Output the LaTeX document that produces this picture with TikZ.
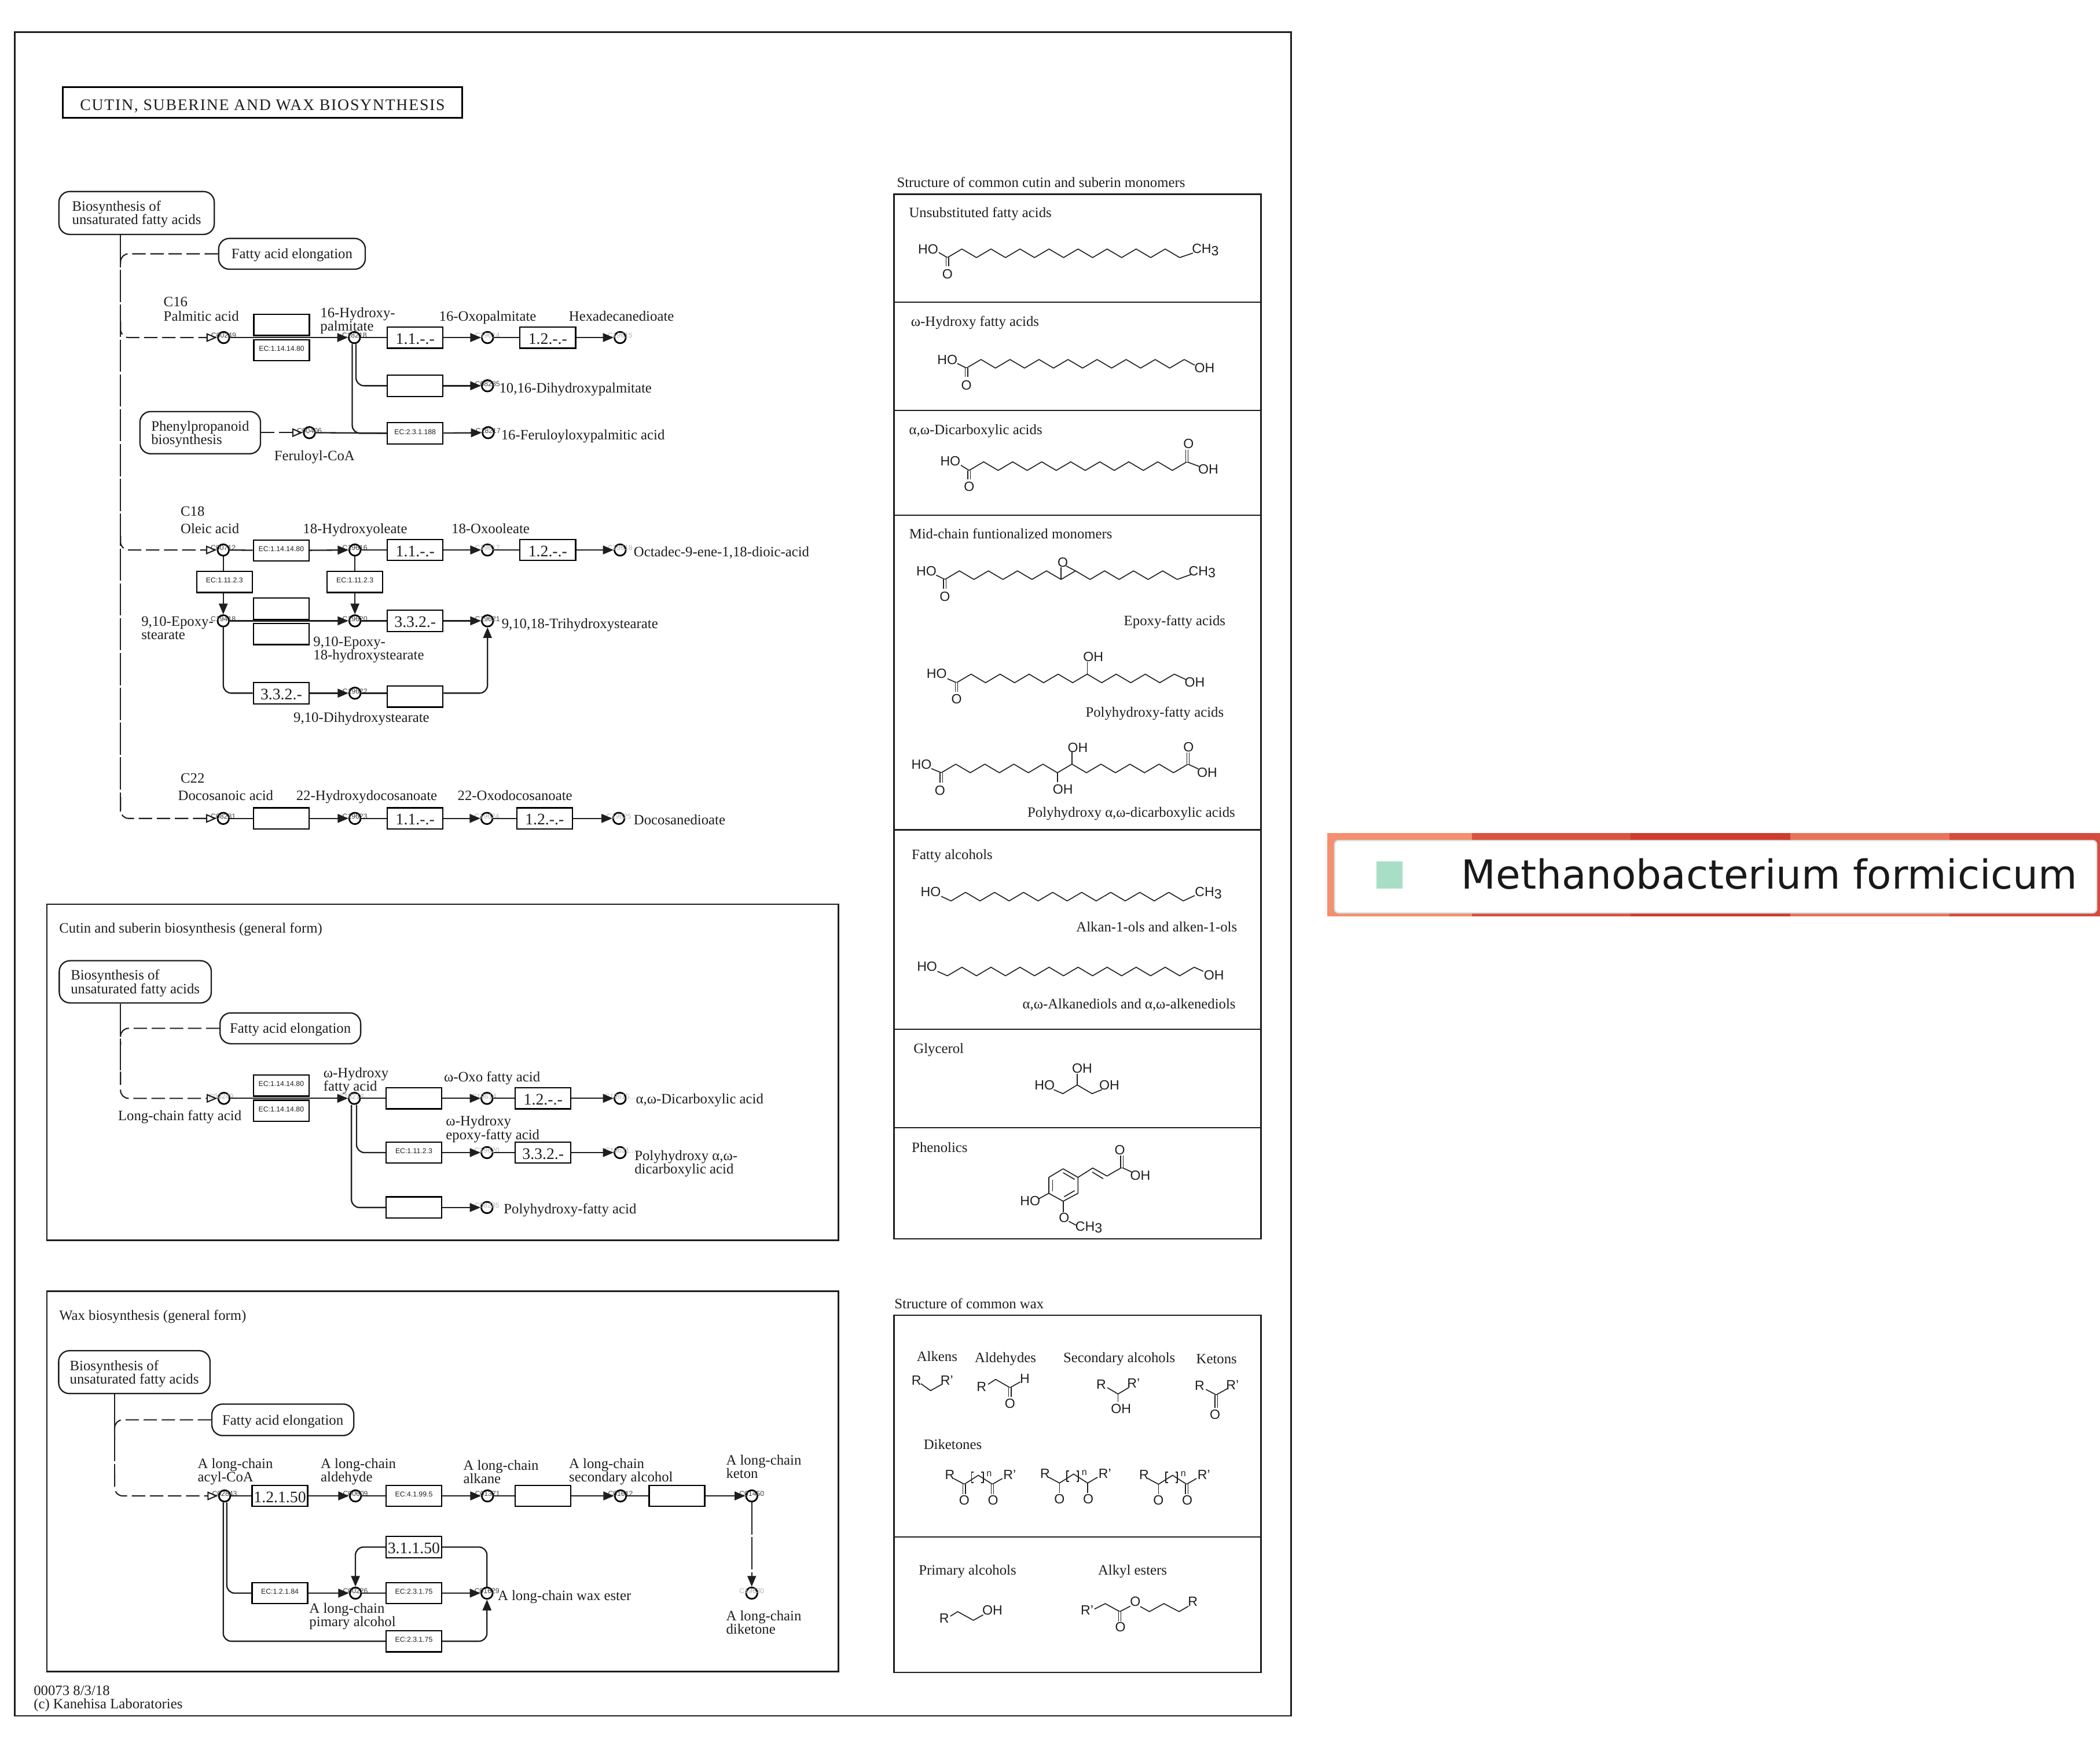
\documentclass[tikz,border=0pt]{standalone}
\usepackage{fontspec}
\setmainfont{Liberation Serif}
\setsansfont{Liberation Sans}
\newfontfamily\legendfont{DejaVu Sans}
\usetikzlibrary{arrows.meta,positioning}
\definecolor{keggInk}{RGB}{30,30,30}
\definecolor{legendMint}{RGB}{169,222,198}
\newcommand{\labfont}{\fontsize{10.7}{10}\selectfont}
\newcommand{\mapstrut}{\rule{0pt}{9.6pt}}
% one carbon chain: start x, start y, number of bonds
\newcommand{\fattychain}[3]{\draw[bond] plot[variable=\k,samples at={0,...,#3}] ({#1+10.84*\k},{#2-6.4*mod(\k,2)});}
% wax diketone: name, shift, left and right carbonyl bond
\newcommand{\diketone}[4]{
  \begin{scope}[shift={(#2)}]
    \node[atom] (#1r) at (709.2,1101) {R};
    \node[atom] (#1s) at (753.9,1101) {R'};
    \node[atom] (#1a) at (720,1120.1) {O};
    \node[atom] (#1b) at (741.5,1120.1) {O};
    \node[atom,font=\sffamily\fontsize{7}{7}\selectfont] (#1n) at (738.6,1100.5) {n};
    \draw[bond] (712,1103.8) -- (720,1108.1) -- (730.5,1101.4) -- (741,1108.1) -- (748.4,1103.8);
    \draw[bond] (727,1099) -- (725.4,1099) -- (725.4,1106.8) -- (727,1106.8);
    \draw[bond] (732.6,1099) -- (734.2,1099) -- (734.2,1106.8) -- (732.6,1106.8);
    \draw[#3] (720,1108.1) -- (720,1115.5);
    \draw[#4] (741,1108.1) -- (741,1115.5);
  \end{scope}}

\begin{document}
\begin{tikzpicture}[x=1pt,y=-1pt,
    lab/.style={anchor=west,inner sep=0pt,yshift=-1.3pt,font=\labfont,text=keggInk,text height=6.9pt,text depth=2.2pt},
    lab2/.style={anchor=west,inner sep=0pt,yshift=-1.3pt,font=\labfont,text=keggInk,align=left},
    frame/.style={draw=keggInk,line width=1pt},
    map/.style={draw=keggInk,fill=white,line width=1pt,rounded corners=8pt,inner sep=0pt,font=\labfont,align=left,text=keggInk},
    enz/.style={draw=black,fill=white,line width=1pt,minimum width=41.5pt,minimum height=15.8pt,inner sep=0pt,
      font=\fontsize{12}{12}\selectfont,text=keggInk,text height=10.5pt,text depth=1pt},
    ec/.style={enz,font=\sffamily\fontsize{5.3}{6}\selectfont,text height=3.8pt,text depth=2.4pt},
    cpd/.style={circle,draw=black,fill=white,line width=1.2pt,minimum size=8.5pt,inner sep=0pt},
    cid/.style={inner sep=0pt,yshift=1.5pt,font=\sffamily\fontsize{5.3}{6}\selectfont,text=black!75},
    cidl/.style={cid,text=black!30},
    link/.style={draw=keggInk,line width=1pt},
    curved/.style={link,rounded corners=6pt},
    rx/.style={link,-{Triangle[length=8pt,width=6.5pt]}},
    rxo/.style={dashlink,-{Triangle[open,length=8pt,width=6.5pt]}},
    dashlink/.style={draw=keggInk,line width=.9pt,dash pattern=on 10pt off 3.5pt,rounded corners=6pt},
    trunk/.style={draw=keggInk,line width=.8pt,dash pattern=on 24pt off 2pt},
    atom/.style={inner sep=0pt,font=\sffamily\fontsize{10}{10}\selectfont,text=keggInk},
    bond/.style={draw=keggInk,line width=.7pt,line join=round},
    dbl/.style={draw=keggInk,line width=.6pt,double,double distance=1.3pt}
  ]
  \useasboundingbox (0,0) rectangle (1568,1306.5);

  % frames
  \draw[frame] (11,24) rectangle (964,1281);
  \draw[frame] (35,675) rectangle (626,926);
  \draw[frame] (35,964) rectangle (626,1248);
  \draw[frame] (667.5,145) rectangle (941.5,925);
  \draw[frame] (667.5,225.5) -- (941.5,225.5);
  \draw[frame] (667.5,306.5) -- (941.5,306.5);
  \draw[frame] (667.5,384.5) -- (941.5,384.5);
  \draw[frame] (667.5,619.5) -- (941.5,619.5);
  \draw[frame] (667.5,768.5) -- (941.5,768.5);
  \draw[frame] (667.5,842) -- (941.5,842);
  \draw[frame] (667.5,982) rectangle (941.5,1248.5);
  \draw[frame] (667.5,1147.5) -- (941.5,1147.5);

  \node[draw=black,line width=1.2pt,minimum width=298pt,minimum height=23pt,inner sep=0pt,text=keggInk,
    font=\fontsize{12}{12}\selectfont\addfontfeature{LetterSpace=6.3},text depth=0pt,text height=12pt] (title) at (196,76.5) {CUTIN, SUBERINE AND WAX BIOSYNTHESIS\hspace{11pt}};
  \node[lab] (foot1) at (25,1262) {00073 8/3/18};
  \node[lab] (foot2) at (25,1272) {(c) Kanehisa Laboratories};

  % upper map: start nodes
  \node[map,minimum width=116pt,minimum height=32pt] (bio) at (102,159) {\mapstrut Biosynthesis of\\unsaturated fatty acids};
  \node[map,minimum width=109.5pt,minimum height=23pt] (elo) at (218,189.5) {\mapstrut Fatty acid elongation};
  \node[map,minimum width=90pt,minimum height=31.5pt] (phe) at (149.5,323) {\mapstrut Phenylpropanoid\\biosynthesis};

  % C16
  \node[cpd,label={[cid]center:C00249}] (pal) at (167,252) {};
  \node[cpd,label={[cid]center:C18218}] (hyp) at (264.6,252) {};
  \node[cpd,label={[cidl]center:C19614}] (oxp) at (364,252) {};
  \node[cpd,label={[cidl]center:C19615}] (hex) at (463,252) {};
  \node[cpd,label={[cid]center:C08285}] (dhp) at (364,288) {};
  \node[cpd,label={[cid]center:C00406}] (fer) at (231,323) {};
  \node[cpd,label={[cid]center:C18217}] (frp) at (364.5,323) {};
  \node[enz] (e1a) at (210.3,242.6) {};
  \node[ec] (e1b) at (210.3,261.5) {EC:1.14.14.80};
  \node[enz] (e2) at (310,252) {1.1.-.-};
  \node[enz] (e3) at (409,252) {1.2.-.-};
  \node[enz] (e4) at (310,288) {};
  \node[ec] (e5) at (310,323.5) {EC:2.3.1.188};
  \node[lab] (lc16) at (122,225) {C16};
  \node[lab] (lpal) at (122,236) {Palmitic acid};
  \node[lab2] (lhyp) at (239,238) {16-Hydroxy-\\palmitate};
  \node[lab] (loxp) at (327.7,236) {16-Oxopalmitate};
  \node[lab] (lhex) at (424.6,236) {Hexadecanedioate};
  \node[lab] (ldhp) at (372.6,289.6) {10,16-Dihydroxypalmitate};
  \node[lab] (lfrp) at (374,324.5) {16-Feruloyloxypalmitic acid};
  \node[lab] (lfer) at (204.6,340) {Feruloyl-CoA};

  % C18
  \node[cpd,label={[cid]center:C00712}] (ole) at (166.7,410.6) {};
  \node[cpd,label={[cid]center:C19616}] (hyo) at (265,410.6) {};
  \node[cpd,label={[cidl]center:C19617}] (oxo) at (364,410.6) {};
  \node[cpd,label={[cidl]center:C19618}] (oct) at (463,410.6) {};
  \node[cpd,label={[cid]center:C19418}] (eps) at (166.7,463.5) {};
  \node[cpd,label={[cid]center:C19620}] (ehs) at (265,463.5) {};
  \node[cpd,label={[cid]center:C19621}] (tri) at (364,463.5) {};
  \node[cpd,label={[cid]center:C19622}] (dih) at (265,517.5) {};
  \node[ec] (e6) at (210,411) {EC:1.14.14.80};
  \node[enz] (e7) at (310,410.6) {1.1.-.-};
  \node[enz] (e8) at (409,410.6) {1.2.-.-};
  \node[ec] (e9) at (167.6,434.5) {EC:1.11.2.3};
  \node[ec] (e10) at (265,434.5) {EC:1.11.2.3};
  \node[enz] (e11a) at (210,454.4) {};
  \node[enz] (e11b) at (210,473.4) {};
  \node[enz] (e12) at (310,463.5) {3.3.2.-};
  \node[enz] (e13) at (210,517.5) {3.3.2.-};
  \node[enz] (e14) at (310,520) {};
  \node[lab] (lc18) at (134.7,381.6) {C18};
  \node[lab] (lole) at (134.7,394.5) {Oleic acid};
  \node[lab] (lhyo) at (226,394.5) {18-Hydroxyoleate};
  \node[lab] (loxo) at (337,394.5) {18-Oxooleate};
  \node[lab] (loct) at (473,412) {Octadec-9-ene-1,18-dioic-acid};
  \node[lab2] (leps) at (105.4,467.4) {9,10-Epoxy-\\stearate};
  \node[lab2] (lehs) at (233.8,483.9) {9,10-Epoxy-\\18-hydroxystearate};
  \node[lab] (ltri) at (374.4,465.5) {9,10,18-Trihydroxystearate};
  \node[lab] (ldih) at (219,535.4) {9,10-Dihydroxystearate};

  % C22
  \node[cpd,label={[cid]center:C08281}] (doc) at (166.7,611) {};
  \node[cpd,label={[cid]center:C19623}] (hyd) at (265,611) {};
  \node[cpd,label={[cidl]center:C19624}] (oxd) at (363.5,611) {};
  \node[cpd,label={[cidl]center:C19625}] (dio) at (462,611) {};
  \node[enz] (e15) at (210,611) {};
  \node[enz] (e16) at (310,611) {1.1.-.-};
  \node[enz] (e17) at (406.6,611) {1.2.-.-};
  \node[lab] (lc22) at (134.7,581) {C22};
  \node[lab] (ldoc) at (132.8,594) {Docosanoic acid};
  \node[lab] (lhyd) at (221,594) {22-Hydroxydocosanoate};
  \node[lab] (loxd) at (341.5,594) {22-Oxodocosanoate};
  \node[lab] (ldio) at (473,612) {Docosanedioate};

  \coordinate (t1) at (90,200);
  \coordinate (t2) at (90,240);
  \coordinate (t3) at (90,400);
  \coordinate (t4) at (90,595);
  \draw[trunk] (t1 |- bio.south) -- (t1) -- (t4) -- (90,606);
  \draw[dashlink] (elo.west) -| (t1);
  \draw[rxo] (t2) |- (pal);
  \draw[rxo] (t3) |- (ole);
  \draw[rxo] (t4) |- (doc);
  \draw[rxo,rounded corners=0pt] (phe) -- (fer);

  \draw[rx] (pal) -- (hyp);
  \draw[link] (hyp) -- (e2);
  \draw[rx] (e2) -- (oxp);
  \draw[link] (oxp) -- (e3);
  \draw[rx] (e3) -- (hex);
  \draw[curved] ([xshift=1.2pt]hyp.south) |- (e4.west);
  \draw[rx] (e4) -- (dhp);
  \draw[curved] ([xshift=-1.6pt]hyp.south) |- (e5.west);
  \draw[link] (fer) -- (e5);
  \draw[rx] (e5) -- (frp);

  \draw[link] (ole) -- (e6);
  \draw[rx] (e6) -- (hyo);
  \draw[link] (hyo) -- (e7);
  \draw[rx] (e7) -- (oxo);
  \draw[link] (oxo) -- (e8);
  \draw[rx] (e8) -- (oct);
  \draw[link] (ole) -- (ole |- e9.north);
  \draw[rx] (eps |- e9.south) -- (eps);
  \draw[link] (hyo) -- (e10);
  \draw[rx] (e10) -- (ehs);
  \draw[rx] (eps) -- (ehs);
  \draw[link] (ehs) -- (e12);
  \draw[rx] (e12) -- (tri);
  \draw[curved] (eps.south) |- (e13.west);
  \draw[rx] (e13) -- (dih);
  \draw[link] (dih) -- (dih -| e14.west);
  \draw[rx,rounded corners=6pt] (dih -| e14.east) -| (tri.south);

  \draw[link] (doc) -- (e15);
  \draw[rx] (e15) -- (hyd);
  \draw[link] (hyd) -- (e16);
  \draw[rx] (e16) -- (oxd);
  \draw[link] (oxd) -- (e17);
  \draw[rx] (e17) -- (dio);

  % cutin and suberin, general form
  \node[lab] (lcut) at (44,693) {Cutin and suberin biosynthesis (general form)};
  \node[map,minimum width=113.5pt,minimum height=31.5pt] (bio2) at (101,733) {\mapstrut Biosynthesis of\\unsaturated fatty acids};
  \node[map,minimum width=105pt,minimum height=23pt] (elo2) at (216.8,767.7) {\mapstrut Fatty acid elongation};
  \node[cpd,label={[cidl]center:C00249...}] (lcf) at (167.2,820) {};
  \node[cpd,label={[cidl]center:C18218...}] (ohf) at (264.6,820) {};
  \node[cpd,label={[cidl]center:C19614...}] (oxf) at (363.6,820) {};
  \node[cpd,label={[cidl]center:C19615...}] (dca) at (463,820) {};
  \node[cpd,label={[cidl]center:C19620}] (oef) at (363.6,860.5) {};
  \node[cpd,label={[cidl]center:C19621...}] (pdc) at (463,860.5) {};
  \node[cpd,label={[cidl]center:C08285}] (pfa) at (363.6,901.5) {};
  \node[ec] (g1a) at (210,810.5) {EC:1.14.14.80};
  \node[ec] (g1b) at (210,829.3) {EC:1.14.14.80};
  \node[enz] (g2) at (309,820) {};
  \node[enz] (g3) at (405.5,820) {1.2.-.-};
  \node[ec] (g4) at (309,860.5) {EC:1.11.2.3};
  \node[enz] (g5) at (405.5,860.5) {3.3.2.-};
  \node[enz] (g6) at (309,901.5) {};
  \node[lab] (llcf) at (88,832.7) {Long-chain fatty acid};
  \node[lab2] (lohf) at (241.3,805.8) {ω-Hydroxy\\fatty acid};
  \node[lab] (loxf) at (331.3,804) {ω-Oxo fatty acid};
  \node[lab] (ldca) at (474.6,820.5) {α,ω-Dicarboxylic acid};
  \node[lab2] (loef) at (332.8,841.7) {ω-Hydroxy\\epoxy-fatty acid};
  \node[lab2] (lpdc) at (473.6,867.3) {Polyhydroxy α,ω-\\dicarboxylic acid};
  \node[lab] (lpfa) at (376,902.5) {Polyhydroxy-fatty acid};

  \coordinate (u1) at (90,780);
  \coordinate (u2) at (90,800);
  \draw[trunk] (u1 |- bio2.south) -- (u1) -- (u2);
  \draw[dashlink] (elo2.west) -| (u1);
  \draw[rxo] (u2) |- (lcf);
  \draw[rx] (lcf) -- (ohf);
  \draw[link] (ohf) -- (g2);
  \draw[rx] (g2) -- (oxf);
  \draw[link] (oxf) -- (g3);
  \draw[rx] (g3) -- (dca);
  \draw[curved] ([xshift=1.6pt]ohf.south) |- (g4.west);
  \draw[rx] (g4) -- (oef);
  \draw[link] (oef) -- (g5);
  \draw[rx] (g5) -- (pdc);
  \draw[curved] ([xshift=-2.2pt]ohf.south) |- (g6.west);
  \draw[rx] (g6) -- (pfa);

  % wax, general form
  \node[lab] (lwax) at (44,982) {Wax biosynthesis (general form)};
  \node[map,minimum width=113pt,minimum height=32pt] (bio3) at (100.3,1024.4) {\mapstrut Biosynthesis of\\unsaturated fatty acids};
  \node[map,minimum width=106pt,minimum height=23.5pt] (elo3) at (211.2,1060) {\mapstrut Fatty acid elongation};
  \node[cpd,label={[cid]center:C02843}] (acy) at (167.7,1116.8) {};
  \node[cpd,label={[cid]center:C00609}] (ald) at (265.4,1116.8) {};
  \node[cpd,label={[cid]center:C01371}] (alk) at (364,1116.8) {};
  \node[cpd,label={[cid]center:C01612}] (sec) at (463.3,1116.8) {};
  \node[cpd,label={[cid]center:C01450}] (ket) at (561.3,1116.8) {};
  \node[cpd,label={[cid]center:C00226}] (alc) at (265.4,1189.4) {};
  \node[cpd,label={[cid]center:C01629}] (est) at (363.6,1189.4) {};
  \node[cpd,label={[cidl]center:C19630}] (dik) at (561.3,1189.4) {};
  \node[enz] (w1) at (209,1116.8) {1.2.1.50};
  \node[ec] (w2) at (309,1116.8) {EC:4.1.99.5};
  \node[enz] (w3) at (405.5,1116.8) {};
  \node[enz] (w4) at (505.5,1116.8) {};
  \node[enz] (w5) at (309,1155) {3.1.1.50};
  \node[ec] (w6) at (209,1189.4) {EC:1.2.1.84};
  \node[ec] (w7) at (309,1189.4) {EC:2.3.1.75};
  \node[ec] (w8) at (309,1225.3) {EC:2.3.1.75};
  \node[lab2] (lacy) at (147.4,1097.4) {A long-chain\\acyl-CoA};
  \node[lab2] (lald) at (239.3,1097.4) {A long-chain\\aldehyde};
  \node[lab2] (lalk) at (345.8,1097.4) {A long-chain\\alkane};
  \node[lab2] (lsec) at (424.7,1097.4) {A long-chain\\secondary alcohol};
  \node[lab2] (lket) at (542,1093.7) {A long-chain\\keton};
  \node[lab2] (lalc) at (230.8,1205.5) {A long-chain\\pimary alcohol};
  \node[lab] (lest) at (371.5,1191) {A long-chain wax ester};
  \node[lab2] (ldik) at (542,1209.9) {A long-chain\\diketone};

  \coordinate (v1) at (85.6,1075);
  \coordinate (v2) at (85.6,1100);
  \draw[trunk] (v1 |- bio3.south) -- (v1) -- (v2);
  \draw[dashlink] (elo3.west) -| (v1);
  \draw[rxo] (v2) |- (acy);
  \draw[link] (acy) -- (w1);
  \draw[rx] (w1) -- (ald);
  \draw[link] (ald) -- (w2);
  \draw[rx] (w2) -- (alk);
  \draw[link] (alk) -- (w3);
  \draw[rx] (w3) -- (sec);
  \draw[link] (sec) -- (w4);
  \draw[rx] (w4) -- (ket);
  \draw[trunk,-{Triangle[length=8pt,width=6.5pt]}] (ket) -- (dik);
  \draw[curved] ([xshift=1.6pt]acy.south) |- (w6.west);
  \draw[rx] (w6) -- (alc);
  \draw[link] (alc) -- (w7);
  \draw[rx] (w7) -- (est);
  \draw[curved] ([xshift=-1pt]acy.south) |- (w8.west);
  \draw[rx,rounded corners=6pt] (w8.east) -| (est.south);
  \draw[curved] (est.north) |- (w5.east);
  \draw[rx,rounded corners=6pt] (w5.west) -| (alc.north);

  % cutin and suberin monomers
  \node[lab] (hm1) at (669.5,136) {Structure of common cutin and suberin monomers};
  \node[lab] (hm2) at (678.6,158.5) {Unsubstituted fatty acids};
  \node[atom] (a1) at (693,186) {HO};
  \node[atom] (a2) at (707.4,204.8) {O};
  \node[atom] (a3) at (900,186.5) {CH\raisebox{-1.5pt}{3}};
  \draw[bond] (700.9,188.5) -- (707.4,192.3);
  \fattychain{707.4}{192.3}{16}
  \draw[bond] (880.8,192.3) -- (890.8,188.9);
  \draw[dbl] (707.4,192.3) -- (707.4,199);

  \node[lab] (hm3) at (680,239.8) {ω-Hydroxy fatty acids};
  \node[atom] (a4) at (707.4,268.5) {HO};
  \node[atom] (a5) at (721.6,287.6) {O};
  \node[atom] (a6) at (899.4,274.8) {OH};
  \draw[bond] (714.8,271.4) -- (721.6,274.8);
  \fattychain{721.6}{274.8}{15}
  \draw[bond] (884.2,268.4) -- (892,272.6);
  \draw[dbl] (721.6,274.8) -- (721.6,281.5);

  \node[lab] (hm4) at (678.6,320.8) {α,ω-Dicarboxylic acids};
  \node[atom] (a7) at (709.6,344.4) {HO};
  \node[atom] (a8) at (723.6,363.2) {O};
  \node[atom] (a9) at (887.4,331.2) {O};
  \node[atom] (a10) at (902.2,350.5) {OH};
  \draw[bond] (717.5,347.4) -- (723.6,351.2);
  \fattychain{723.6}{351.2}{15}
  \draw[bond] (886.2,344.8) -- (895.7,348.3);
  \draw[dbl] (723.6,351.2) -- (723.6,358);
  \draw[dbl] (886.2,344.8) -- (886.2,336);

  \node[lab] (hm5) at (678.7,398.3) {Mid-chain funtionalized monomers};
  \node[atom] (a11) at (691.7,426.3) {HO};
  \node[atom] (a12) at (705.5,445.3) {O};
  \node[atom] (a13) at (793.6,420) {O};
  \node[atom] (a14) at (897.6,427) {CH\raisebox{-1.5pt}{3}};
  \draw[bond] (699,429.4) -- (705.5,432.6);
  \fattychain{705.5}{432.6}{16}
  \draw[bond] (878.9,432.6) -- (889.3,428.9);
  \draw[dbl] (705.5,432.6) -- (705.5,439.5);
  \draw[bond] (792.2,432.6) -- (792.2,423.7);
  \draw[bond] (796,422.5) -- (803,426.2);
  \node[lab] (lm1) at (839,463.5) {Epoxy-fatty acids};

  \node[atom] (a15) at (699.4,502.9) {HO};
  \node[atom] (a16) at (714.2,521.8) {O};
  \node[atom] (a17) at (816.3,490.3) {OH};
  \node[atom] (a18) at (892,509.3) {OH};
  \draw[bond] (707.4,506.7) -- (714.2,509.7);
  \fattychain{714.2}{509.7}{15}
  \draw[bond] (876.8,503.3) -- (885.6,507.4);
  \draw[dbl] (714.2,509.7) -- (714.2,516.5);
  \draw[bond] (811.8,503.3) -- (811.8,494);
  \node[lab] (lm2) at (810.4,531.7) {Polyhydroxy-fatty acids};

  \node[atom] (a19) at (688,570.8) {HO};
  \node[atom] (a20) at (701.8,590.3) {O};
  \node[atom] (a21) at (804.7,558) {OH};
  \node[atom] (a22) at (793.6,589.3) {OH};
  \node[atom] (a23) at (887.4,557.8) {O};
  \node[atom] (a24) at (901.3,576.7) {OH};
  \draw[bond] (695.4,573.8) -- (702.8,576.9);
  \fattychain{702.8}{576.9}{17}
  \draw[bond] (887.1,570.5) -- (894.8,574.1);
  \draw[dbl] (702.8,576.9) -- (702.8,584.5);
  \draw[dbl] (887.1,570.5) -- (887.1,562);
  \draw[bond] (800.4,570.5) -- (800.4,561.5);
  \draw[bond] (789.5,576.9) -- (789.5,584);
  \node[lab] (lm3) at (767,606.4) {Polyhydroxy α,ω-dicarboxylic acids};

  \node[lab] (hm6) at (680.6,637.8) {Fatty alcohols};
  \node[atom] (a25) at (695,665.8) {HO};
  \node[atom] (a26) at (902.2,666.6) {CH\raisebox{-1.5pt}{3}};
  \draw[bond] (702.8,669.2) -- (710.1,672.6);
  \fattychain{710.1}{672.6}{16}
  \draw[bond] (883.5,672.6) -- (892,668.6);
  \node[lab] (lm4) at (803.4,692) {Alkan-1-ols and alken-1-ols};
  \node[atom] (a27) at (692.2,721.6) {HO};
  \node[atom] (a28) at (906.4,728.1) {OH};
  \draw[bond] (700,725.2) -- (707.4,728.5);
  \fattychain{707.4}{728.5}{17}
  \draw[bond] (891.7,722.1) -- (898.5,725.2);
  \node[lab] (lm5) at (763.3,749.6) {α,ω-Alkanediols and α,ω-alkenediols};

  \node[lab] (hm7) at (682,782.7) {Glycerol};
  \node[atom] (a29) at (780,810) {HO};
  \node[atom] (a30) at (828.3,810) {OH};
  \node[atom] (a31) at (808,797.6) {OH};
  \draw[bond] (786.8,813.5) -- (793.6,816.5) -- (804.3,810) -- (815.4,816.5) -- (822.8,813.5);
  \draw[bond] (804.3,810) -- (804.3,801.6);

  \node[lab] (hm8) at (680.6,856.5) {Phenolics};
  \node[atom] (a32) at (836.1,858.5) {O};
  \node[atom] (a33) at (851.4,877.4) {OH};
  \node[atom] (a34) at (769.2,896.4) {HO};
  \node[atom] (a35) at (794.5,909.3) {O};
  \node[atom] (a36) at (813,916.3) {CH\raisebox{-1.5pt}{3}};
  \draw[bond] (793.8,872.6) -- (804.9,879) -- (804.9,890.9) -- (793.8,896.8) -- (783.1,890.9) -- (783.1,879) -- cycle;
  \draw[bond] (793.8,875.5) -- (802.4,880.5);
  \draw[bond] (786,881) -- (786,889.5);
  \draw[bond] (794.5,893.5) -- (802.4,888.9);
  \draw[bond] (804.9,879) -- (815.9,872) -- (826.5,878) -- (837.6,871.6) -- (845,875);
  \draw[bond] (815.5,875) -- (823.7,880);
  \draw[dbl] (837.6,871.6) -- (837.6,862.5);
  \draw[bond] (783.1,890.9) -- (775.7,894.9);
  \draw[bond] (793.8,896.8) -- (793.8,904.8);
  \draw[bond] (798,911.8) -- (803.4,914.7);

  % waxes
  \node[lab] (hw1) at (667.7,973.2) {Structure of common wax};
  \node[lab] (hw2) at (684.3,1012.5) {Alkens};
  \node[lab] (hw3) at (727.7,1013.5) {Aldehydes};
  \node[lab] (hw4) at (793.8,1013.5) {Secondary alcohols};
  \node[lab] (hw5) at (893,1014.4) {Ketons};
  \node[lab] (hw6) at (689.5,1078.5) {Diketones};
  \node[lab] (hw7) at (685.8,1172.2) {Primary alcohols};
  \node[lab] (hw8) at (819.7,1172.2) {Alkyl esters};

  \node[atom] (b1) at (684.3,1030.7) {R};
  \node[atom] (b2) at (707,1030.7) {R'};
  \draw[bond] (687.6,1033) -- (694.8,1038.2) -- (703.3,1033.5);

  \node[atom] (b3) at (732.9,1035.4) {R};
  \node[atom] (b4) at (765.2,1029.2) {H};
  \node[atom] (b5) at (754.1,1048) {O};
  \draw[bond] (737.8,1033.5) -- (743.4,1029.8) -- (754.1,1036) -- (761.8,1031.7);
  \draw[dbl] (754.1,1036) -- (754.1,1043);

  \node[atom] (b6) at (822.2,1033.5) {R};
  \node[atom] (b7) at (846.4,1032.6) {R'};
  \node[atom] (b8) at (837,1051.7) {OH};
  \draw[bond] (826.8,1036) -- (834.8,1040.7) -- (842.7,1036);
  \draw[bond] (834.8,1040.7) -- (834.8,1046.7);

  \node[atom] (b9) at (895.7,1034.5) {R};
  \node[atom] (b10) at (920.3,1034.1) {R'};
  \node[atom] (b11) at (907.2,1056) {O};
  \draw[bond] (900.4,1037.3) -- (908.1,1041.4) -- (916.4,1036.7);
  \draw[dbl] (908.1,1041.4) -- (908.1,1051);

  \diketone{k1}{0,0}{dbl}{dbl}
  \diketone{k2}{71.1,-0.9}{bond}{bond}
  \diketone{k3}{145,0}{bond}{dbl}

  \node[atom] (b12) at (705,1208.4) {R};
  \node[atom] (b13) at (741,1202.2) {OH};
  \draw[bond] (709.6,1206.6) -- (715.1,1203.2) -- (726.8,1209.7) -- (734.1,1205.6);

  \node[atom] (b14) at (811.7,1202.2) {R'};
  \node[atom] (b15) at (847.7,1195.7) {O};
  \node[atom] (b16) at (890.6,1195.7) {R};
  \node[atom] (b17) at (836.6,1214.8) {O};
  \draw[bond] (817.2,1201.3) -- (825.2,1197.2) -- (836.1,1203.2) -- (844,1199.1);
  \draw[bond] (851.4,1199.4) -- (858.2,1203.2) -- (869,1197.2) -- (880.4,1203.2) -- (887.4,1199.1);
  \draw[dbl] (836.1,1203.2) -- (836.1,1210.5);

  % legend strip
  \fill[color={rgb,255:red,244;green,144;blue,111}] (991.2,622) rectangle (1099,684.3);
  \fill[color={rgb,255:red,217;green,83;blue,63}] (1099,622) rectangle (1217.5,684.3);
  \fill[color={rgb,255:red,206;green,59;blue,48}] (1217.5,622) rectangle (1336.6,684.3);
  \fill[color={rgb,255:red,232;green,115;blue,90}] (1336.6,622) rectangle (1455.7,684.3);
  \fill[color={rgb,255:red,213;green,75;blue,61}] (1455.7,622) rectangle (1568,684.3);
  \draw[draw={rgb,255:red,215;green,228;blue,228},fill=white,line width=1pt,rounded corners=3pt] (996.5,627.5) rectangle (1565.5,681.5);
  \fill[legendMint] (1027.9,643) rectangle (1047.2,663.5);
  \node[anchor=west,inner sep=0pt,font=\legendfont\fontsize{29.9}{30}\selectfont,text=black!90] (legendtxt) at (1091,652.5) {Methanobacterium formicicum};
\end{tikzpicture}
\end{document}
